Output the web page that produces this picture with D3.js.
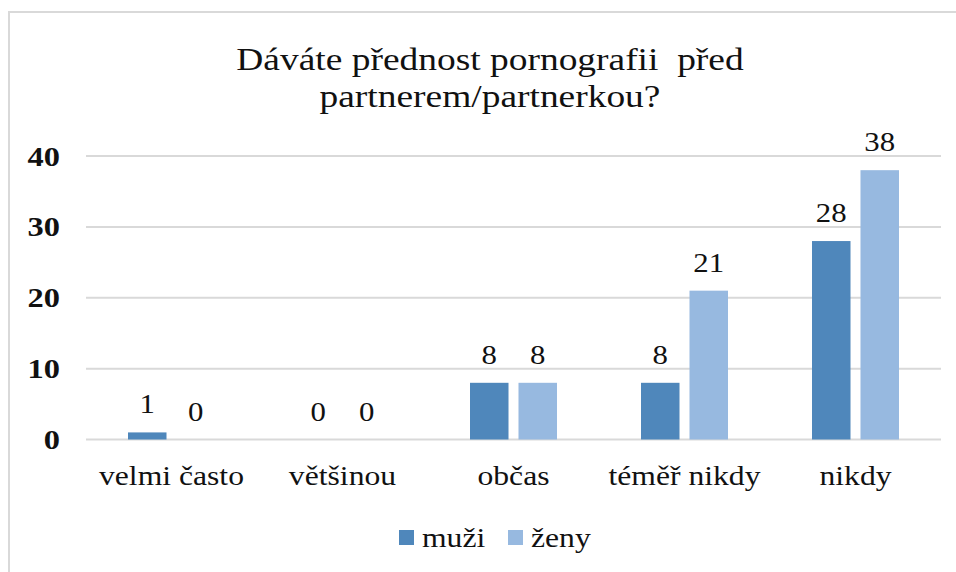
<html>
<head>
	<script src="https://d3js.org/d3.v7.min.js"></script>
	<style>
		body { margin: 0; background: #fff; }
		svg { display: block; }
		text { font-family: "Liberation Serif", "Times New Roman", serif; fill: #111; white-space: pre; }
	</style>
</head>
<body>
	<script>
		var categories = ["velmi často", "většinou", "občas", "téměř nikdy", "nikdy"];
		var seriesNames = ["muži", "ženy"];
		var muzi = [1, 0, 8, 8, 28];
		var zeny = [0, 0, 8, 21, 38];
		var yTicks = [0, 10, 20, 30, 40];
		var titleLines = ["Dáváte přednost pornografii  před", "partnerem/partnerkou?"];
		var colors = ["#4f87bb", "#97b9e0"];

		var outerWidth = 956, outerHeight = 572;
		var plot = { left: 86, right: 941, top: 156, bottom: 439.5 };

		var svg = d3.select("body").append("svg")
			.attr("width", outerWidth)
			.attr("height", outerHeight);

		// the text in the picture is a bit wider than plain Times
		function stretch(sel, sx) {
			sel.each(function() {
				var w = this.getComputedTextLength();
				d3.select(this).attr("textLength", w * sx).attr("lengthAdjust", "spacingAndGlyphs");
			});
		}

		// frame (only left and top edges show)
		svg.append("path")
			.attr("d", "M9,572 V12 H956")
			.attr("fill", "none")
			.attr("stroke", "#d9d9d9")
			.attr("stroke-width", 2);

		var title = svg.selectAll(".title").data(titleLines).enter().append("text")
			.attr("x", 490)
			.attr("y", function(d, i) { return 70 + i * 37; })
			.attr("text-anchor", "middle")
			.attr("font-size", 32)
			.text(function(d) { return d; });
		stretch(title, 1.17);

		var xScale = d3.scaleBand().domain(categories).range([plot.left, plot.right]);
		var yScale = d3.scaleLinear().domain([0, 40]).range([plot.bottom, plot.top]);
		var half = xScale.bandwidth() / 2;
		var xSub = d3.scaleBand().domain(seriesNames).range([half - 43.5, half + 43.5]).paddingInner(0.206);

		// gridlines
		svg.selectAll(".grid").data(yTicks).enter().append("line")
			.attr("x1", plot.left).attr("x2", plot.right)
			.attr("y1", function(d) { return yScale(d); })
			.attr("y2", function(d) { return yScale(d); })
			.attr("stroke", "#d9d9d9")
			.attr("stroke-width", 2);

		// y labels
		var yLabels = svg.selectAll(".ylab").data(yTicks).enter().append("text")
			.attr("x", plot.left - 26)
			.attr("y", function(d) { return yScale(d) + 9.5; })
			.attr("text-anchor", "end")
			.attr("font-size", 27)
			.attr("font-weight", "bold")
			.text(function(d) { return d; });
		stretch(yLabels, 1.2);

		// x labels
		var xLabels = svg.selectAll(".xlab").data(categories).enter().append("text")
			.attr("x", function(d) { return xScale(d) + half; })
			.attr("y", plot.bottom + 45)
			.attr("text-anchor", "middle")
			.attr("font-size", 28)
			.text(function(d) { return d; });
		stretch(xLabels, 1.13);

		var rows = [];
		categories.forEach(function(c, i) {
			rows.push({ cat: c, s: "muži", v: muzi[i], k: 0 });
			rows.push({ cat: c, s: "ženy", v: zeny[i], k: 1 });
		});

		svg.selectAll(".bar").data(rows).enter().append("rect")
			.attr("x", function(d) { return xScale(d.cat) + xSub(d.s); })
			.attr("y", function(d) { return yScale(d.v); })
			.attr("width", xSub.bandwidth())
			.attr("height", function(d) { return yScale(0) - yScale(d.v); })
			.attr("fill", function(d) { return colors[d.k]; });

		var valueLabels = svg.selectAll(".val").data(rows).enter().append("text")
			.attr("x", function(d) { return xScale(d.cat) + xSub(d.s) + xSub.bandwidth() / 2; })
			.attr("y", function(d) { return yScale(d.v) - 19; })
			.attr("text-anchor", "middle")
			.attr("font-size", 28)
			.text(function(d) { return d.v; });
		stretch(valueLabels, 1.1);

		// legend
		seriesNames.forEach(function(s, i) {
			var lx = 399 + i * 109;
			svg.append("rect")
				.attr("x", lx).attr("y", 530)
				.attr("width", 15).attr("height", 15)
				.attr("fill", colors[i]);
			var t = svg.append("text")
				.attr("x", lx + 23).attr("y", 547)
				.attr("font-size", 28)
				.text(s);
			stretch(t, 1.13);
		});
	</script>
</body>
</html>
